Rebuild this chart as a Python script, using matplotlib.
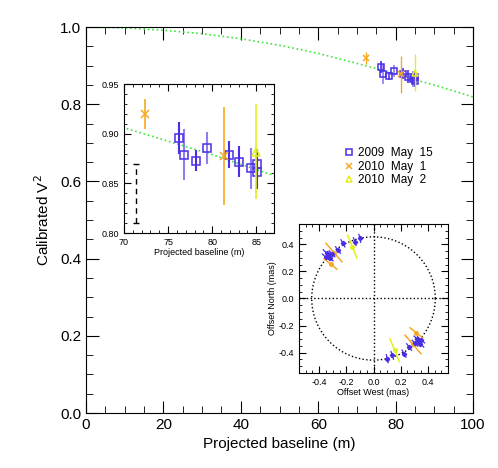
import matplotlib
matplotlib.use("Agg")
import matplotlib.pyplot as plt
from matplotlib.ticker import MultipleLocator
import numpy as np

plt.rcParams['font.family'] = ['Liberation Sans', 'DejaVu Sans']

# 2009 May 15 (squares)
b09 = [76.24, 76.8, 78.15, 79.44, 81.9, 83.06, 84.43, 85.04, 85.04]
v09 = [0.896, 0.879, 0.873, 0.886, 0.879, 0.872, 0.865, 0.870, 0.861]
e09 = [0.016, 0.026, 0.011, 0.016, 0.014, 0.016, 0.021, 0.015, 0.017]
light09 = [0, 1, 0, 1, 0, 0, 1, 0, 0]
# 2010 May 1 (crosses)
b10a = [72.4, 81.3]
v10a = [0.920, 0.8775]
e10a = [0.015, 0.049]
# 2010 May 2 (triangle)
b10b = [85.0]
v10b = [0.882]
e10b = [0.048]

# model curve
model_b = [0, 10, 20, 30, 40, 50, 60, 70, 80, 87, 90, 100]
model_v2 = [1.0, 0.998, 0.992, 0.983, 0.970, 0.953, 0.932, 0.906, 0.879, 0.858, 0.850, 0.819]

# systematic error bar in the inset
sys_b = 71.4
sys_lo, sys_hi = 0.810, 0.869

# offsets (mas), one half of each symmetric pair
off09_x = [-0.101, -0.138, -0.225, -0.262, -0.345, -0.330, -0.350, -0.320, -0.305]
off09_y = [0.444, 0.420, 0.407, 0.358, 0.335, 0.318, 0.305, 0.298, 0.330]
off09_e = [0.03, 0.03, 0.03, 0.03, 0.035, 0.03, 0.035, 0.03, 0.03]
off10a_x = [-0.291, -0.316]
off10a_y = [0.339, 0.254]
off10a_e = [0.09, 0.06]
off10b_x = [-0.156]
off10b_y = [0.383]
off10b_e = [0.09]
ring_r = 0.455

c_blue = '#4a2ee6'
c_light = '#8f7ef0'
c_orange = '#f7a823'
c_yellow = '#e2f018'
c_green = '#3ee63e'


def style_axes(ax, size, major_len, minor_len):
    ax.tick_params(which='both', direction='in', top=True, right=True, labelsize=size)
    ax.tick_params(which='major', length=major_len)
    ax.tick_params(which='minor', length=minor_len)


def draw_v2(ax, ms, lw):
    ax.plot(model_b, model_v2, ls=':', color=c_green, lw=1.2)
    for b, v, e, lt in zip(b09, v09, e09, light09):
        ax.errorbar(b, v, yerr=e, fmt='none', ecolor=c_light if lt else c_blue, lw=lw)
    ax.plot(b09, v09, 's', mfc='none', mec=c_blue, ms=ms, mew=1.1, label='2009  May  15')
    ax.errorbar(b10a, v10a, yerr=e10a, fmt='none', ecolor=c_orange, lw=lw * 0.8)
    ax.plot(b10a, v10a, 'x', color=c_orange, ms=ms, mew=1.1, label='2010  May  1')
    ax.errorbar(b10b, v10b, yerr=e10b, fmt='none', ecolor=c_yellow, lw=lw * 0.8)
    ax.plot(b10b, v10b, '^', mfc='none', mec=c_yellow, ms=ms, mew=1.1, label='2010  May  2')


fig = plt.figure(figsize=(4.98, 4.68), dpi=100)

ax = fig.add_axes([0.1727, 0.1175, 0.7773, 0.8245])
draw_v2(ax, 4.3, 1.2)
ax.set_xlim(0, 100)
ax.set_ylim(0, 1.0)
ax.xaxis.set_major_locator(MultipleLocator(20))
ax.xaxis.set_minor_locator(MultipleLocator(5))
ax.yaxis.set_major_locator(MultipleLocator(0.2))
ax.yaxis.set_minor_locator(MultipleLocator(0.05))
ax.yaxis.set_major_formatter(matplotlib.ticker.FormatStrFormatter('%.1f'))
style_axes(ax, 11, 9, 5)
ax.set_xlabel('Projected baseline (m)', fontsize=11)
ax.set_ylabel('Calibrated V$^2$', fontsize=11, labelpad=6)
ax.legend(loc='upper left', bbox_to_anchor=(0.652, 0.705), frameon=False, fontsize=8.5,
          handlelength=0.8, handletextpad=0.4, labelspacing=0.15, borderpad=0, numpoints=1)

# inset: zoom on the data
ax1 = fig.add_axes([0.249, 0.502, 0.301, 0.3185])
draw_v2(ax1, 6, 1.5)
eb = ax1.errorbar(sys_b, (sys_lo + sys_hi) / 2, yerr=(sys_hi - sys_lo) / 2, fmt='none',
                  ecolor='k', lw=1.0, capsize=2)
eb[2][0].set_linestyle((0, (4, 3)))
ax1.set_xlim(70, 87)
ax1.set_ylim(0.80, 0.95)
ax1.xaxis.set_major_locator(MultipleLocator(5))
ax1.xaxis.set_minor_locator(MultipleLocator(1))
ax1.yaxis.set_major_locator(MultipleLocator(0.05))
ax1.yaxis.set_minor_locator(MultipleLocator(0.01))
ax1.yaxis.set_major_formatter(matplotlib.ticker.FormatStrFormatter('%.2f'))
style_axes(ax1, 6.5, 5, 2.5)
ax1.set_xlabel('Projected baseline (m)', fontsize=6.5, labelpad=1)

# inset: offsets on the sky
ax2 = fig.add_axes([0.600, 0.203, 0.300, 0.3184])
t = np.linspace(0, 2 * np.pi, 200)
ax2.plot(ring_r * np.cos(t), ring_r * np.sin(t), ls=':', color='k', lw=1)
ax2.axhline(0, ls=':', color='k', lw=1)
ax2.axvline(0, ls=':', color='k', lw=1)


def draw_offsets(xs, ys, es, color, lw, ms, marker):
    for sgn in (1, -1):
        for x, y, e in zip(xs, ys, es):
            x, y = sgn * x, sgn * y
            r = np.hypot(x, y)
            ux, uy = x / r, y / r
            ax2.plot([x - e * ux, x + e * ux], [y - e * uy, y + e * uy], color=color, lw=lw)
            ax2.plot(x, y, marker, color=color, ms=ms)


draw_offsets(off10a_x, off10a_y, off10a_e, c_orange, 1.1, 2.5, 'o')
draw_offsets(off10b_x, off10b_y, off10b_e, c_yellow, 1.1, 2.5, 'o')
draw_offsets(off09_x, off09_y, off09_e, c_blue, 0.9, 2.2, 'D')
ax2.set_xlim(-0.55, 0.55)
ax2.set_ylim(-0.55, 0.55)
ax2.xaxis.set_major_locator(MultipleLocator(0.2))
ax2.xaxis.set_minor_locator(MultipleLocator(0.05))
ax2.yaxis.set_major_locator(MultipleLocator(0.2))
ax2.yaxis.set_minor_locator(MultipleLocator(0.05))
ax2.xaxis.set_major_formatter(matplotlib.ticker.FormatStrFormatter('%.1f'))
ax2.yaxis.set_major_formatter(matplotlib.ticker.FormatStrFormatter('%.1f'))
style_axes(ax2, 6.5, 5, 2.5)
ax2.set_xlabel('Offset West (mas)', fontsize=6.5, labelpad=1)
ax2.set_ylabel('Offset North (mas)', fontsize=6.5, labelpad=1)

fig.savefig('out.png', dpi=100)
